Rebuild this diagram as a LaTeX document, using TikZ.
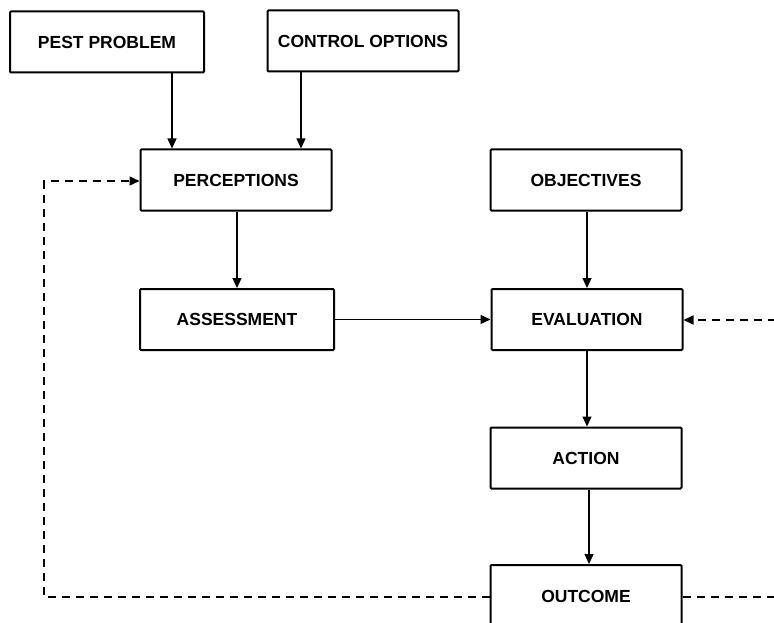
\documentclass[tikz,border=0pt]{standalone}
\usepackage{fontspec}
\setmainfont{Liberation Sans}
\usetikzlibrary{arrows.meta}
\begin{document}
\begin{tikzpicture}[x=1pt,y=-1pt,
  box/.style={draw,line width=2pt,rounded corners=1pt,minimum width=191pt,minimum height=61pt,
    font=\fontsize{17.5}{20}\selectfont\bfseries,inner sep=0pt},
  tip/.style={-{Triangle[length=10pt,width=9pt]}},
  arr/.style={line width=1.3pt,tip},
  fb/.style={line width=1.6pt,dash pattern=on 8pt off 6pt}]
\useasboundingbox (0,0) rectangle (774,623);
\clip (0,0) rectangle (774,623);
\node[box,minimum width=194pt] (pest) at (107,42) {PEST PROBLEM};
\node[box] (ctrl) at (363,41) {CONTROL OPTIONS};
\node[box] (perc) at (236,180) {PERCEPTIONS};
\node[box] (obj) at (586,180) {OBJECTIVES};
\node[box,minimum width=194pt] (assess) at (237,319.5) {ASSESSMENT};
\node[box] (eval) at (587,319.5) {EVALUATION};
\node[box] (action) at (586,458) {ACTION};
\node[box,minimum height=62pt] (outcome) at (586,596) {OUTCOME};
\coordinate (xa) at (172,0);
\coordinate (xb) at (301,0);
\coordinate (xc) at (237,0);
\coordinate (xd) at (587,0);
\coordinate (xe) at (589,0);
\coordinate (lc1) at (44,597);
\coordinate (lc2) at (44,181);
\coordinate (rc1) at (790,597);
\coordinate (rc2) at (790,320);
\draw[arr] (pest.south -| xa) -- (perc.north -| xa);
\draw[arr] (ctrl.south -| xb) -- (perc.north -| xb);
\draw[arr] (perc.south -| xc) -- (assess.north -| xc);
\draw[arr] (obj.south -| xd) -- (eval.north -| xd);
\draw[arr] (assess.east) -- (eval.west);
\draw[arr] (eval.south -| xd) -- (action.north -| xd);
\draw[arr] (action.south -| xe) -- (outcome.north -| xe);
\draw[fb,tip] (outcome.west |- lc1) -- (lc1) -- (lc2) -- (perc.west |- lc2);
\draw[fb] (outcome.east |- rc1) -- (rc1);
\draw[fb,tip] (rc2) -- (eval.east |- rc2);
\end{tikzpicture}
\end{document}
